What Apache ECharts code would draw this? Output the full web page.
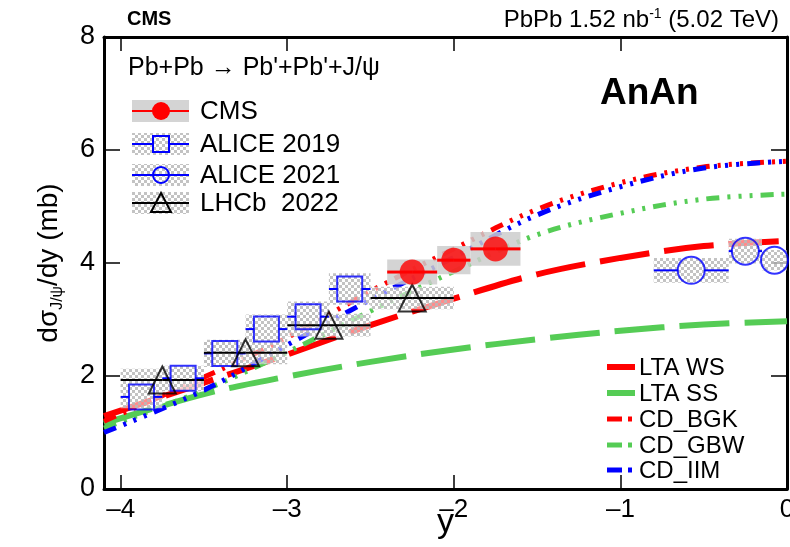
<!DOCTYPE html>
<html><head><meta charset="utf-8">
<script src="https://cdn.jsdelivr.net/npm/echarts@6/dist/echarts.min.js"></script>
<style>html,body{margin:0;padding:0;background:#fff}#c{width:790px;height:547px}</style>
</head><body><div id="c"></div>
<script>
// ---- axis ticks ----
const xTicks = [-4, -3, -2, -1, 0];
const yTicks = [0, 2, 4, 6, 8];

// ---- theory curves ----
const thX   = [-4.1, -3.5, -3.0, -2.5, -2.0, -1.5, -1.0, -0.5, 0.0];
const ltaWS = [1.29, 1.88, 2.38, 2.90, 3.37, 3.80, 4.09, 4.30, 4.39];
const ltaSS = [1.16, 1.68, 1.99, 2.25, 2.47, 2.65, 2.80, 2.91, 2.97];
const cdBGK = [1.20, 1.98, 2.68, 3.50, 4.25, 4.95, 5.42, 5.70, 5.80];
const cdGBW = [1.08, 1.75, 2.42, 3.15, 3.85, 4.50, 4.88, 5.13, 5.22];
const cdIIM = [1.00, 1.75, 2.55, 3.35, 4.10, 4.85, 5.35, 5.68, 5.80];
const theoryNames = ['LTA WS', 'LTA SS', 'CD_BGK', 'CD_GBW', 'CD_IIM'];

// ---- CMS ----
const cmsX   = [-2.25, -2.0, -1.75];
const cmsXlo = [-2.4, -2.1, -1.9];
const cmsXhi = [-2.1, -1.9, -1.6];
const cmsY   = [3.84, 4.05, 4.25];
const cmsSys = [0.22, 0.25, 0.30];

// ---- ALICE 2019 ----
const a19X   = [-3.875, -3.625, -3.375, -3.125, -2.875, -2.625];
const a19Xlo = [-4.0, -3.75, -3.5, -3.25, -3.0, -2.75];
const a19Xhi = [-3.75, -3.5, -3.25, -3.0, -2.75, -2.5];
const a19Y   = [1.63, 1.96, 2.40, 2.83, 3.05, 3.54];
const a19Sys = [0.20, 0.22, 0.24, 0.26, 0.27, 0.28];

// ---- ALICE 2021 ----
const a21X   = [-0.575, -0.25, -0.075];
const a21Xlo = [-0.8, -0.35, -0.15];
const a21Xhi = [-0.35, -0.15, 0.0];
const a21Y   = [3.87, 4.21, 4.05];
const a21Sys = [0.22, 0.22, 0.18];

// ---- LHCb 2022 ----
const lhX   = [-3.75, -3.25, -2.75, -2.25];
const lhXlo = [-4.0, -3.5, -3.0, -2.5];
const lhXhi = [-3.5, -3.0, -2.5, -2.0];
const lhY   = [1.93, 2.41, 2.90, 3.38];
const lhSys = [0.20, 0.20, 0.20, 0.20];

const FONT = "'Liberation Sans', Arial, Helvetica, sans-serif";
const RED = '#ff0000', GREEN = '#55cc55', BLUE = '#0000ff';

function hatchCanvas(){
  const c = document.createElement('canvas'); c.width = 6; c.height = 6;
  const g = c.getContext('2d');
  g.fillStyle = 'rgba(255,255,255,0.55)'; g.fillRect(0,0,6,6);
  g.fillStyle = 'rgba(185,185,185,0.85)'; g.fillRect(0,0,3,3); g.fillRect(3,3,3,3);
  return c;
}
const hatchFill = {image: hatchCanvas(), repeat: 'repeat'};
const solidFill = 'rgba(205,205,205,0.85)';

function boxSeries(xlo, xhi, ys, sy, fill){
  return {
    type: 'custom', silent: true, z: 3,
    data: ys.map((y,i)=>[xlo[i], xhi[i], y - sy[i], y + sy[i]]),
    encode: {x: [0,1], y: [2,3]},
    renderItem: (p, api) => {
      const a = api.coord([api.value(0), api.value(3)]);
      const b = api.coord([api.value(1), api.value(2)]);
      return {type: 'rect', shape: {x: a[0], y: a[1], width: b[0]-a[0], height: b[1]-a[1]}, style: {fill: fill}};
    }
  };
}
function barSeries(xs, xlo, xhi, ys, color, width, gap){
  return {
    type: 'custom', silent: true, z: 4,
    data: xs.map((x,i)=>[x, ys[i], xlo[i], xhi[i]]),
    encode: {x: [0,2,3], y: 1},
    renderItem: (p, api) => {
      const c = api.coord([api.value(0), api.value(1)]);
      const l = api.coord([api.value(2), api.value(1)]);
      const r = api.coord([api.value(3), api.value(1)]);
      const st = {stroke: color, lineWidth: width};
      return {type: 'group', children: [
        {type: 'line', shape: {x1: l[0], y1: c[1], x2: c[0]-gap, y2: c[1]}, style: st},
        {type: 'line', shape: {x1: c[0]+gap, y1: c[1], x2: r[0], y2: c[1]}, style: st}
      ]};
    }
  };
}
function curve(name, ys, color, width, type){
  return {
    name: name, type: 'line', smooth: 0.35, symbol: 'none', z: 2, silent: true,
    data: thX.map((x,i)=>[x, ys[i]]),
    lineStyle: {color: color, width: width, type: type},
    itemStyle: {color: color}
  };
}
const LONG = [50, 15];
const CDT = [13, 8, 3, 8, 3, 8, 3, 8];

// ---- legend graphics (layout) ----
function txt(x, y, text, font, extra){
  return {type: 'text', x: x, y: y, style: Object.assign({text: text, font: font, fill: '#000', verticalAlign: 'middle'}, extra || {})};
}
const g = [];
g.push(txt(127, 19, 'CMS', 'bold 20px ' + FONT));
g.push({type: 'text', x: 779, y: 20, style: {
  text: '{n|PbPb 1.52 nb}{u|-1}{n| (5.02 TeV)}', align: 'right', verticalAlign: 'middle',
  rich: {n: {fontSize: 24, fontFamily: FONT, fill: '#000', lineHeight: 26},
         u: {fontSize: 14, fontFamily: FONT, fill: '#000', lineHeight: 14, verticalAlign: 'top'}}
}});
g.push(txt(128, 68, "Pb+Pb \u2192 Pb'+Pb'+J/\u03c8", '25px ' + FONT));
g.push(txt(600, 94, 'AnAn', 'bold 37px ' + FONT));

const rows = [111, 144, 175, 203];
const dataLegend = ['CMS', 'ALICE 2019', 'ALICE 2021', 'LHCb  2022'];
rows.forEach((ry, i) => {
  g.push({type: 'rect', shape: {x: 132, y: ry - 11, width: 57, height: 22}, style: {fill: i === 0 ? solidFill : hatchFill}});
  const col = i === 0 ? RED : (i === 3 ? '#000' : BLUE);
  if (i === 1) {
    g.push({type: 'line', shape: {x1: 132, y1: ry, x2: 153, y2: ry}, style: {stroke: col, lineWidth: 2}});
    g.push({type: 'line', shape: {x1: 169, y1: ry, x2: 189, y2: ry}, style: {stroke: col, lineWidth: 2}});
    g.push({type: 'rect', shape: {x: 153, y: ry - 8, width: 16, height: 16}, style: {fill: 'none', stroke: col, lineWidth: 2}});
  } else if (i === 2) {
    g.push({type: 'line', shape: {x1: 132, y1: ry, x2: 153, y2: ry}, style: {stroke: col, lineWidth: 2}});
    g.push({type: 'line', shape: {x1: 169, y1: ry, x2: 189, y2: ry}, style: {stroke: col, lineWidth: 2}});
    g.push({type: 'circle', shape: {cx: 161, cy: ry, r: 8}, style: {fill: 'none', stroke: col, lineWidth: 2}});
    g.push({type: 'line', shape: {x1: 153, y1: ry, x2: 169, y2: ry}, style: {stroke: col, lineWidth: 2}});
  } else if (i === 3) {
    g.push({type: 'line', shape: {x1: 132, y1: ry, x2: 189, y2: ry}, style: {stroke: col, lineWidth: 2}});
    g.push({type: 'polygon', shape: {points: [[161, ry - 10], [151, ry + 9], [171, ry + 9]]}, style: {fill: 'none', stroke: col, lineWidth: 2}});
  } else {
    g.push({type: 'line', shape: {x1: 132, y1: ry, x2: 189, y2: ry}, style: {stroke: col, lineWidth: 2}});
    g.push({type: 'circle', shape: {cx: 161, cy: ry, r: 9}, style: {fill: col}});
  }
  g.push(txt(200, ry + 1, dataLegend[i], '26px ' + FONT));
});

const thCols = [RED, GREEN, RED, GREEN, BLUE];
const thRows = [367, 393, 419, 445, 470];
thRows.forEach((ry, i) => {
  if (i < 2) {
    g.push({type: 'line', shape: {x1: 607, y1: ry, x2: 635, y2: ry}, style: {stroke: thCols[i], lineWidth: 6}});
  } else {
    g.push({type: 'line', shape: {x1: 607, y1: ry, x2: 622, y2: ry}, style: {stroke: thCols[i], lineWidth: 5}});
    g.push({type: 'line', shape: {x1: 628, y1: ry, x2: 632, y2: ry}, style: {stroke: thCols[i], lineWidth: 5}});
  }
  g.push(txt(639, ry + 1, theoryNames[i], '24px ' + FONT));
});

const chart = echarts.init(document.getElementById('c'));
const axisCommon = {
  type: 'value',
  axisLine: {show: true, onZero: false, lineStyle: {color: '#000', width: 3}},
  splitLine: {show: false}
};
chart.setOption({
  animation: false,
  textStyle: {fontFamily: FONT},
  grid: {left: 104, right: 3, top: 37, bottom: 58, containLabel: false, outerBoundsMode: 'none'},
  xAxis: [
    Object.assign({}, axisCommon, {
      min: -4.1, max: 0, position: 'bottom',
      axisTick: {show: true, inside: true, length: 14, customValues: xTicks, lineStyle: {color: '#000', width: 1.5}},
      axisLabel: {show: true, customValues: xTicks, color: '#000', fontSize: 26, margin: 8, fontFamily: FONT,
        formatter: v => v < 0 ? '\u2013' + Math.abs(v) : String(v)},
      name: 'y', nameLocation: 'middle', nameGap: 17, nameMoveOverlap: false,
      nameTextStyle: {color: '#000', fontSize: 34, fontFamily: FONT, verticalAlign: 'top'}
    }),
    Object.assign({}, axisCommon, {
      min: -4.1, max: 0, position: 'top',
      axisTick: {show: true, inside: true, length: 14, customValues: xTicks, lineStyle: {color: '#000', width: 1.5}},
      axisLabel: {show: false}
    })
  ],
  yAxis: [
    Object.assign({}, axisCommon, {
      min: 0, max: 8, interval: 2, position: 'left',
      axisTick: {show: true, inside: true, length: 16, lineStyle: {color: '#000', width: 1.5}},
      axisLabel: {show: true, color: '#000', fontSize: 27, margin: 9, fontFamily: FONT},
      name: '{a|d\u03c3}{s|J/\u03c8}{a|/dy (mb)}', nameLocation: 'middle', nameGap: 38, nameRotate: 90, nameMoveOverlap: false,
      nameTextStyle: {color: '#000', rich: {
        a: {fontSize: 28, fontFamily: FONT, color: '#000', lineHeight: 34},
        s: {fontSize: 16, fontFamily: FONT, color: '#000', lineHeight: 18, verticalAlign: 'bottom'}
      }}
    }),
    Object.assign({}, axisCommon, {
      min: 0, max: 8, interval: 2, position: 'right',
      axisTick: {show: true, inside: true, length: 16, lineStyle: {color: '#000', width: 1.5}},
      axisLabel: {show: false}
    })
  ],
  graphic: g,
  series: [
    curve('LTA WS', ltaWS, RED, 6, LONG),
    curve('LTA SS', ltaSS, GREEN, 6, LONG),
    curve('CD_BGK', cdBGK, RED, 5, CDT),
    curve('CD_GBW', cdGBW, GREEN, 5, CDT),
    curve('CD_IIM', cdIIM, BLUE, 5, CDT),

    boxSeries(a19Xlo, a19Xhi, a19Y, a19Sys, hatchFill),
    boxSeries(lhXlo, lhXhi, lhY, lhSys, hatchFill),
    boxSeries(a21Xlo, a21Xhi, a21Y, a21Sys, hatchFill),
    boxSeries(cmsXlo, cmsXhi, cmsY, cmsSys, solidFill),

    barSeries(a19X, a19Xlo, a19Xhi, a19Y, BLUE, 2, 12),
    barSeries(a21X, a21Xlo, a21Xhi, a21Y, BLUE, 2, 13),
    barSeries(lhX, lhXlo, lhXhi, lhY, '#000000', 2, 0),
    barSeries(cmsX, cmsXlo, cmsXhi, cmsY, RED, 3, 0),

    {type: 'scatter', z: 5, silent: true, symbol: 'rect', symbolSize: 25,
     data: a19X.map((x,i)=>[x, a19Y[i]]),
     itemStyle: {color: 'rgba(0,0,0,0)', borderColor: BLUE, borderWidth: 2}},
    {type: 'scatter', z: 5, silent: true, symbol: 'circle', symbolSize: 27,
     data: a21X.map((x,i)=>[x, a21Y[i]]),
     itemStyle: {color: 'rgba(0,0,0,0)', borderColor: BLUE, borderWidth: 2}},
    {type: 'scatter', z: 5, silent: true, symbol: 'triangle', symbolSize: 27,
     data: lhX.map((x,i)=>[x, lhY[i]]),
     itemStyle: {color: 'rgba(0,0,0,0)', borderColor: '#000', borderWidth: 2}},
    {type: 'scatter', z: 5, silent: true, symbol: 'circle', symbolSize: 25,
     data: cmsX.map((x,i)=>[x, cmsY[i]]),
     itemStyle: {color: RED}}
  ]
});
</script>
</body></html>
